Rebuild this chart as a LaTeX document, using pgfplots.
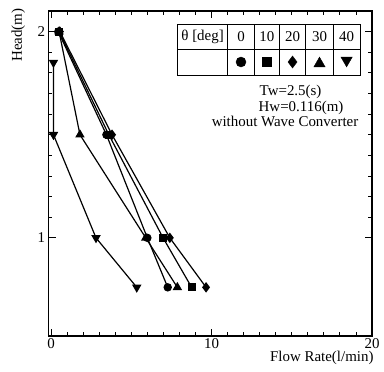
\documentclass[border=0pt]{standalone}
\usepackage{pgfplots}
\pgfplotsset{compat=1.18}
\usepackage{fontspec}
\setmainfont{Liberation Serif}
\begin{document}
\begin{tikzpicture}[font=\fontsize{15}{17.5}\selectfont]
\useasboundingbox (-48.5bp,11bp) rectangle (335.5bp,-361bp);
\begin{axis}[
  at={(0,0)}, anchor=north west,
  scale only axis, width=323.5bp, height=325bp,
  xmin=-0.16, xmax=20, ymin=0.524, ymax=2.10,
  xtick={0,10,20}, ytick={1,2},
  minor x tick num=9, minor y tick num=9,
  tick align=inside, tick pos=both,
  major tick length=7bp, minor tick length=4bp,
  axis line style={line width=1.1bp},
  every tick/.style={black, line width=0.9bp},
  /pgf/number format/assume math mode=true,
  tick label style={font=\fontsize{15}{17.5}\selectfont},
  xticklabel style={yshift=1bp},
  xlabel={Flow Rate(l/min)},
  xlabel style={at={(rel axis cs:1,0)}, anchor=base east, xshift=5bp, yshift=-25bp},
  ylabel={Head(m)},
  ylabel style={at={([xshift=-26.5bp,yshift=6bp]rel axis cs:0,1)}, anchor=base east},
  clip=false,
  every axis plot/.append style={black, line width=1.2bp},
]
% theta = 0 (circle)
\addplot[mark=*, mark size=3.6bp] coordinates {(0.45,2.0) (3.45,1.5) (6.0,1.0) (7.27,0.76)};
% theta = 10 (square)
\addplot[mark=square*, mark size=3.3bp] coordinates {(0.5,2.0) (3.6,1.5) (6.98,1.0) (8.76,0.76)};
% theta = 20 (diamond)
\addplot[mark=diamond*, mark size=4.3bp] coordinates {(0.55,2.0) (3.8,1.5) (7.4,1.0) (9.66,0.76)};
% theta = 30 (triangle)
\addplot[mark=triangle*, mark size=4.3bp] coordinates {(0.5,2.0) (1.8,1.5) (5.9,1.0) (7.87,0.76)};
% theta = 40 (down triangle)
\addplot[mark=triangle*, mark options={rotate=180}, mark size=4.3bp] coordinates {(0.15,1.85) (0.15,1.5) (2.8,1.0) (5.34,0.76)};
\end{axis}
% legend table
\draw[line width=0.9bp] (129bp,-13bp) rectangle (311.5bp,-64bp);
\draw[line width=0.9bp] (129bp,-38.3bp) -- (311.5bp,-38.3bp);
\foreach \xx in {179.2,205.8,230.8,257.2,284.8}
  \draw[line width=0.9bp] (\xx bp,-13bp) -- (\xx bp,-64bp);
\node[anchor=center] at (154.1bp,-25.6bp) {θ [deg]};
\node at (192.5bp,-25.6bp) {0};
\node at (218.3bp,-25.6bp) {10};
\node at (244bp,-25.6bp) {20};
\node at (271bp,-25.6bp) {30};
\node at (298.1bp,-25.6bp) {40};
\node[inner sep=0pt] at (192.5bp,-51bp) {\tikz{\pgfsetplotmarksize{5bp}\pgfuseplotmark{*}}};
\node[inner sep=0pt] at (218.3bp,-51bp) {\tikz{\pgfsetplotmarksize{4.5bp}\pgfuseplotmark{square*}}};
\node[inner sep=0pt] at (244bp,-51bp) {\tikz{\pgfsetplotmarksize{6bp}\pgfuseplotmark{diamond*}}};
\node[inner sep=0pt] at (271bp,-51bp) {\tikz{\pgfsetplotmarksize{6.5bp}\pgfuseplotmark{triangle*}}};
\node[inner sep=0pt] at (298.1bp,-51bp) {\tikz{\pgfsetplotmarksize{6.5bp}\pgftransformrotate{180}\pgfuseplotmark{triangle*}}};
\node[anchor=base west, inner sep=0pt] at (211bp,-84bp) {Tw=2.5(s)};
\node[anchor=base west, inner sep=0pt] at (210bp,-100bp) {Hw=0.116(m)};
\node[anchor=base east, inner sep=0pt] at (310bp,-115bp) {without Wave Converter};
\end{tikzpicture}
\end{document}
